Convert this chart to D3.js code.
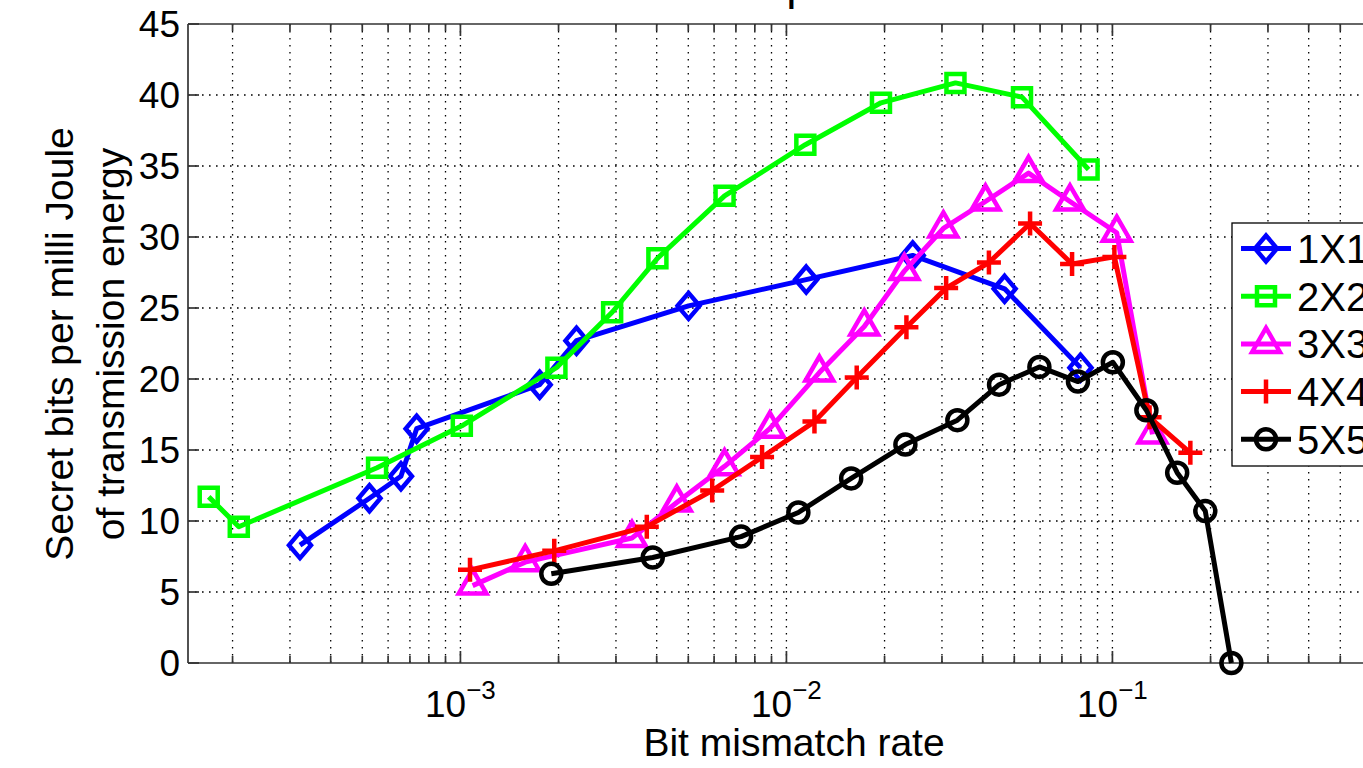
<!DOCTYPE html>
<html>
<head>
<meta charset="utf-8">
<script src="https://cdn.jsdelivr.net/npm/d3@7"></script>
<style>
  html, body { margin: 0; padding: 0; background: #fff; }
  svg { display: block; font-family: "Liberation Sans", Arial, sans-serif; }
</style>
</head>
<body>
<svg id="chart" width="1363" height="768"></svg>
<script>
// Bit mismatch rate (x) and secret bits per mJ (y) for each antenna configuration
const ber1 = [3.22e-4, 5.26e-4, 6.57e-4, 7.34e-4, 1.75e-3, 2.27e-3, 5.01e-3, 1.15e-2, 2.44e-2, 4.67e-2, 7.98e-2];
const eff1 = [8.3, 11.6, 13.15, 16.5, 19.6, 22.7, 25.15, 27.0, 28.7, 26.35, 20.8];

const ber2 = [1.69e-4, 2.09e-4, 5.55e-4, 1.01e-3, 1.97e-3, 2.92e-3, 4.02e-3, 6.46e-3, 1.143e-2, 1.95e-2, 3.30e-2, 5.28e-2, 8.45e-2];
const eff2 = [11.7, 9.6, 13.75, 16.7, 20.8, 24.7, 28.5, 32.9, 36.5, 39.45, 40.85, 39.85, 34.75];

const ber3 = [1.09e-3, 1.58e-3, 3.36e-3, 4.61e-3, 6.46e-3, 8.89e-3, 1.262e-2, 1.733e-2, 2.30e-2, 3.03e-2, 4.08e-2, 5.53e-2, 7.41e-2, 1.031e-1, 1.327e-1];
const eff3 = [5.45, 7.1, 8.8, 11.3, 13.85, 16.5, 20.45, 23.7, 27.6, 30.6, 32.5, 34.5, 32.5, 30.3, 16.1];

const ber4 = [1.07e-3, 1.94e-3, 3.73e-3, 5.92e-3, 8.42e-3, 1.219e-2, 1.643e-2, 2.334e-2, 3.09e-2, 4.18e-2, 5.59e-2, 7.52e-2, 1.014e-1, 1.30e-1, 1.734e-1];
const eff4 = [6.56, 7.9, 9.6, 12.15, 14.5, 17.0, 20.1, 23.65, 26.4, 28.2, 30.95, 28.1, 28.6, 17.3, 14.8];

const ber5 = [1.90e-3, 3.89e-3, 7.26e-3, 1.088e-2, 1.58e-2, 2.317e-2, 3.345e-2, 4.49e-2, 5.97e-2, 7.84e-2, 1.003e-1, 1.271e-1, 1.58e-1, 1.927e-1, 2.317e-1];
const eff5 = [6.28, 7.43, 8.9, 10.6, 13.0, 15.38, 17.1, 19.6, 20.85, 19.82, 21.18, 17.8, 13.4, 10.7, 0];

const seriesNames = ["1X1", "2X2", "3X3", "4X4", "5X5"];
const seriesColors = ["#0000ff", "#00ff00", "#ff00ff", "#ff0000", "#000000"];
const seriesMarkers = ["diamond", "square", "triangle", "plus", "circle"];

const xTickExponents = [-3, -2, -1];
const yTickValues = [0, 5, 10, 15, 20, 25, 30, 35, 40, 45];

const titleText = "Comparison";
const xLabelText = "Bit mismatch rate";
const yLabelLines = ["Secret bits per milli Joule", "of transmission energy"];

// ---- layout ----
const plotLeft = 188, plotTop = 24, plotBottom = 663;
const decadePx = 326;
const xMin = 1.46e-4, xMax = 1;
const plotRight = plotLeft + (Math.log10(xMax) - Math.log10(xMin)) * decadePx;

const x = d3.scaleLog().domain([xMin, xMax]).range([plotLeft, plotRight]);
const y = d3.scaleLinear().domain([0, 45]).range([plotBottom, plotTop]);

const svg = d3.select("#chart");

// ---- grid ----
const minorVals = [];
for (let e = -4; e <= 0; e++) {
  for (let k = 1; k <= 9; k++) {
    const v = k * Math.pow(10, e);
    if (v > xMin * 1.001 && v < xMax * 0.999) minorVals.push(v);
  }
}
const grid = svg.append("g").attr("stroke", "#000").attr("stroke-width", 1.3)
  .attr("stroke-dasharray", "1.6,5.4").attr("fill", "none");
grid.selectAll("line.v").data(minorVals).join("line").attr("class", "v")
  .attr("x1", d => x(d)).attr("x2", d => x(d)).attr("y1", plotTop).attr("y2", plotBottom);
grid.selectAll("line.h").data(yTickValues.filter(v => v > 0 && v < 45)).join("line").attr("class", "h")
  .attr("x1", plotLeft).attr("x2", plotRight).attr("y1", d => y(d)).attr("y2", d => y(d));

// ---- axes frame and ticks ----
const axisG = svg.append("g").attr("stroke", "#333").attr("stroke-width", 1.7).attr("fill", "none");
axisG.append("line").attr("x1", plotLeft).attr("x2", plotRight).attr("y1", plotBottom).attr("y2", plotBottom);
axisG.append("line").attr("x1", plotLeft).attr("x2", plotRight).attr("y1", plotTop).attr("y2", plotTop);
axisG.append("line").attr("x1", plotLeft).attr("x2", plotLeft).attr("y1", plotTop).attr("y2", plotBottom);

const isMajor = v => Math.abs(Math.log10(v) - Math.round(Math.log10(v))) < 1e-9;
minorVals.forEach(v => {
  const len = isMajor(v) ? 12 : 7;
  axisG.append("line").attr("x1", x(v)).attr("x2", x(v)).attr("y1", plotBottom).attr("y2", plotBottom - len);
  axisG.append("line").attr("x1", x(v)).attr("x2", x(v)).attr("y1", plotTop).attr("y2", plotTop + len);
});
yTickValues.forEach(v => {
  axisG.append("line").attr("x1", plotLeft).attr("x2", plotLeft + 11).attr("y1", y(v)).attr("y2", y(v));
});

// ---- tick labels ----
const tickFont = 37;
svg.append("g").selectAll("text").data(yTickValues).join("text")
  .attr("x", plotLeft - 8).attr("y", d => y(d)).attr("dy", "0.36em")
  .attr("text-anchor", "end").attr("font-size", tickFont).attr("fill", "#000")
  .text(d => d);

const xLab = svg.append("g").selectAll("text").data(xTickExponents).join("text")
  .attr("x", d => x(Math.pow(10, d))).attr("y", 717)
  .attr("text-anchor", "middle").attr("font-size", tickFont).attr("fill", "#000");
xLab.append("tspan").text("10");
xLab.append("tspan").attr("font-size", 26).attr("dy", -18).text(d => "\u2212" + Math.abs(d));

// ---- axis titles ----
svg.append("text").attr("x", 794).attr("y", 756).attr("text-anchor", "middle")
  .attr("font-size", 39).attr("fill", "#000").text(xLabelText);

const yl = svg.append("text").attr("transform", "translate(0,344) rotate(-90)")
  .attr("text-anchor", "middle").attr("font-size", 39).attr("fill", "#000");
yl.append("tspan").attr("x", 0).attr("y", 73).text(yLabelLines[0]);
yl.append("tspan").attr("x", 0).attr("y", 124).text(yLabelLines[1]);

// title sits above the visible area; only its descender reaches into view
svg.append("text").attr("x", (plotLeft + plotRight) / 2).attr("y", -1.5)
  .attr("text-anchor", "middle").attr("font-size", 46).attr("fill", "#000").text(titleText);

// ---- markers ----
function markerPath(type) {
  switch (type) {
    case "diamond": return "M0,-13L11,0L0,13L-11,0Z";
    case "square": return "M-9,-9H9V9H-9Z";
    case "triangle": { const r = 16; const h = r * Math.cos(Math.PI / 6);
      return `M0,${-r}L${h},${r / 2}L${-h},${r / 2}Z`; }
    case "plus": return "M-12,0H12M0,-12V12";
    case "circle": return "M10,0A10,10 0 1,1 -10,0A10,10 0 1,1 10,0Z";
  }
}

const bers = [ber1, ber2, ber3, ber4, ber5];
const effs = [eff1, eff2, eff3, eff4, eff5];
const line = d3.line().x(d => x(d[0])).y(d => y(d[1]));

bers.forEach((b, i) => {
  const pts = b.map((v, j) => [v, effs[i][j]]);
  const g = svg.append("g");
  g.append("path").attr("d", line(pts)).attr("fill", "none")
    .attr("stroke", seriesColors[i]).attr("stroke-width", 5).attr("stroke-linejoin", "round");
  g.selectAll("path.m").data(pts).join("path").attr("class", "m")
    .attr("transform", d => `translate(${x(d[0])},${y(d[1])})`)
    .attr("d", markerPath(seriesMarkers[i])).attr("fill", "none")
    .attr("stroke", seriesColors[i]).attr("stroke-width", 4.5);
});

// ---- legend ----
const legX = 1232, legY = 223, legH = 243, rowStep = 47.7;
const leg = svg.append("g");
leg.append("rect").attr("x", legX).attr("y", legY).attr("width", 200).attr("height", legH)
  .attr("fill", "#fff").attr("stroke", "#000").attr("stroke-width", 1.3);
seriesNames.forEach((name, i) => {
  const cy = legY + 25.5 + i * rowStep;
  leg.append("line").attr("x1", legX + 9).attr("x2", legX + 59).attr("y1", cy).attr("y2", cy)
    .attr("stroke", seriesColors[i]).attr("stroke-width", 5);
  leg.append("path").attr("transform", `translate(${legX + 34},${cy})`)
    .attr("d", markerPath(seriesMarkers[i])).attr("fill", "none")
    .attr("stroke", seriesColors[i]).attr("stroke-width", 4.5);
  leg.append("text").attr("x", legX + 65).attr("y", cy).attr("dy", "0.36em")
    .attr("font-size", 40).attr("fill", "#000").text(name);
});
</script>
</body>
</html>
